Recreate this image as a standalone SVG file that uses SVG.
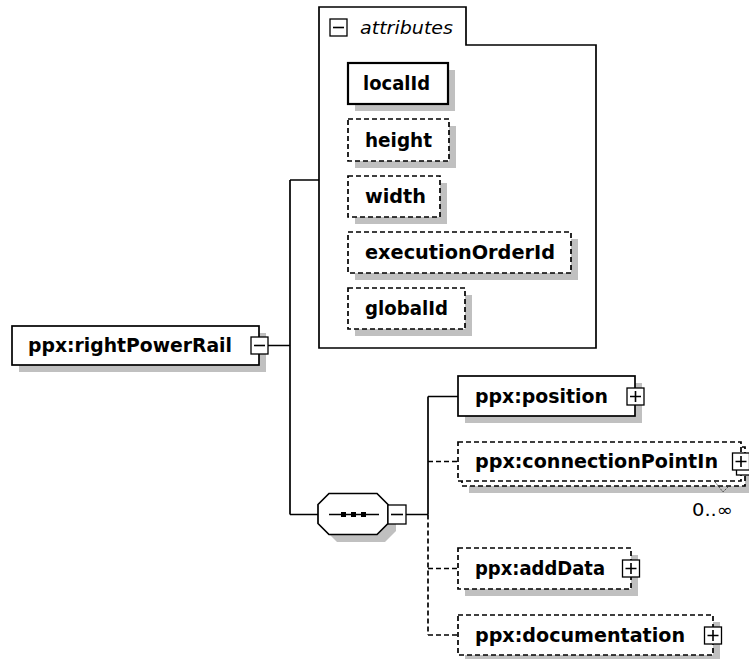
<svg xmlns="http://www.w3.org/2000/svg" width="749" height="659" viewBox="0 0 749 659">
<style>
  .bx { fill: #ffffff; stroke: #000000; stroke-width: 1.7; }
  .req { fill: #ffffff; stroke: #000000; stroke-width: 2.2; }
  .opt { fill: #ffffff; stroke: #000000; stroke-width: 1.7; stroke-dasharray: 5 3; }
  .sh { fill: #c0c0c0; stroke: none; }
  .lbl { font-family: "DejaVu Sans", Verdana, sans-serif; font-weight: bold; font-size: 19px; fill: #000000; }
  .ital { font-family: "DejaVu Sans", sans-serif; font-style: italic; font-size: 18px; fill: #000000; }
  .occ { font-family: "DejaVu Sans", sans-serif; font-size: 17px; fill: #000000; }
  .ico { fill: #ffffff; stroke: #000000; stroke-width: 1.3; }
  .icl { stroke: #000000; stroke-width: 1.6; fill: none; }
  .ln { stroke: #000000; stroke-width: 1.7; fill: none; }
  .dln { stroke: #000000; stroke-width: 1.7; fill: none; stroke-dasharray: 5 3; }
</style>

<g id="connectors">
  <path class="ln" d="M268 345.5 H290 M290 180 V514.5 M290 180 H319 M290 514.5 H318 M406 514.5 H428 M428 396.5 V514.5 M428 396.5 H458"/>
  <path class="dln" d="M428 514.5 V635 M428 461.5 H458 M428 568.5 H458 M428 635 H458"/>
</g>

<g id="attributes">
  <path d="M319 348 V7 H466 V45 H596 V348 Z" fill="#ffffff" stroke="#000000" stroke-width="1.7"/>
  <rect class="ico" x="330" y="19" width="17" height="17"/>
  <path class="icl" d="M333 27.5 H344"/>
  <text class="ital" x="360" y="34" textLength="93" lengthAdjust="spacingAndGlyphs">attributes</text>
</g>

<g id="attr-localId">
  <rect class="sh" x="355" y="70" width="100" height="41"/>
  <rect class="req" x="348" y="63" width="100" height="41"/>
  <text class="lbl" x="363" y="90" textLength="67" lengthAdjust="spacingAndGlyphs">localId</text>
</g>
<g id="attr-height">
  <rect class="sh" x="355" y="126" width="101" height="42"/>
  <rect class="opt" x="348" y="119" width="101" height="42"/>
  <text class="lbl" x="365" y="146.5" textLength="67" lengthAdjust="spacingAndGlyphs">height</text>
</g>
<g id="attr-width">
  <rect class="sh" x="355" y="183" width="92" height="41"/>
  <rect class="opt" x="348" y="176" width="92" height="41"/>
  <text class="lbl" x="365" y="203" textLength="61" lengthAdjust="spacingAndGlyphs">width</text>
</g>
<g id="attr-executionOrderId">
  <rect class="sh" x="355" y="239" width="223" height="41"/>
  <rect class="opt" x="348" y="232" width="223" height="41"/>
  <text class="lbl" x="365" y="259" textLength="190" lengthAdjust="spacingAndGlyphs">executionOrderId</text>
</g>
<g id="attr-globalId">
  <rect class="sh" x="355" y="295" width="117" height="41"/>
  <rect class="opt" x="348" y="288" width="117" height="41"/>
  <text class="lbl" x="365" y="315" textLength="83" lengthAdjust="spacingAndGlyphs">globalId</text>
</g>

<g id="rightPowerRail">
  <rect class="sh" x="19" y="333" width="247" height="39"/>
  <rect class="bx" x="12" y="326" width="247" height="39"/>
  <text class="lbl" x="28" y="352" textLength="204" lengthAdjust="spacingAndGlyphs">ppx:rightPowerRail</text>
  <rect class="ico" x="251" y="337" width="17" height="17"/>
  <path class="icl" d="M254 345.5 H265"/>
</g>

<g id="sequence">
  <polygon class="sh" points="337,501 385,501 396,512 396,531 385,542 337,542 326,531 326,512"/>
  <polygon points="329,493.5 377,493.5 388,504.5 388,523.5 377,534.5 329,534.5 318,523.5 318,504.5" fill="#ffffff" stroke="#000000" stroke-width="1.7"/>
  <path class="ln" d="M329 514.5 H379"/>
  <rect x="341" y="512" width="5" height="5" fill="#000000"/>
  <rect x="351" y="512" width="5" height="5" fill="#000000"/>
  <rect x="361" y="512" width="5" height="5" fill="#000000"/>
  <rect class="ico" x="388" y="505" width="18" height="19"/>
  <path class="icl" d="M391 514.5 H403"/>
</g>

<g id="position">
  <rect class="sh" x="465" y="383" width="177" height="40"/>
  <rect class="bx" x="458" y="376" width="177" height="40"/>
  <text class="lbl" x="475" y="403" textLength="133" lengthAdjust="spacingAndGlyphs">ppx:position</text>
  <rect class="ico" x="627" y="388" width="17" height="17"/>
  <path class="icl" d="M630 396.5 H641 M635.5 391 V402"/>
</g>

<g id="connectionPointIn">
  <rect class="sh" x="469" y="454" width="283" height="39"/>
  <rect class="opt" x="462" y="447" width="283" height="39"/>
  <rect class="opt" x="458" y="442" width="283" height="39"/>
  <text class="lbl" x="475" y="468" textLength="243" lengthAdjust="spacingAndGlyphs">ppx:connectionPointIn</text>
  <rect class="ico" x="736.5" y="458" width="17" height="17"/>
  <rect class="ico" x="732.5" y="453" width="17" height="17"/>
  <path class="icl" d="M735.5 461.5 H746.5 M741 456 V467"/>
  <polyline points="715,482 723,492 729,486" fill="none" stroke="#555555" stroke-width="1" stroke-dasharray="2 1"/>
  <text class="occ" x="692" y="516" textLength="41" lengthAdjust="spacingAndGlyphs">0..∞</text>
</g>

<g id="addData">
  <rect class="sh" x="465" y="555" width="173" height="41"/>
  <rect class="opt" x="458" y="548" width="173" height="41"/>
  <text class="lbl" x="475" y="575" textLength="130" lengthAdjust="spacingAndGlyphs">ppx:addData</text>
  <rect class="ico" x="622.5" y="560" width="17" height="17"/>
  <path class="icl" d="M625.5 568.5 H636.5 M631 563 V574"/>
</g>

<g id="documentation">
  <rect class="sh" x="465" y="622" width="255" height="40"/>
  <rect class="opt" x="458" y="615" width="255" height="40"/>
  <text class="lbl" x="475" y="641.5" textLength="210" lengthAdjust="spacingAndGlyphs">ppx:documentation</text>
  <rect class="ico" x="704.5" y="627" width="17" height="17"/>
  <path class="icl" d="M707.5 635.5 H718.5 M713 630 V641"/>
</g>
</svg>
